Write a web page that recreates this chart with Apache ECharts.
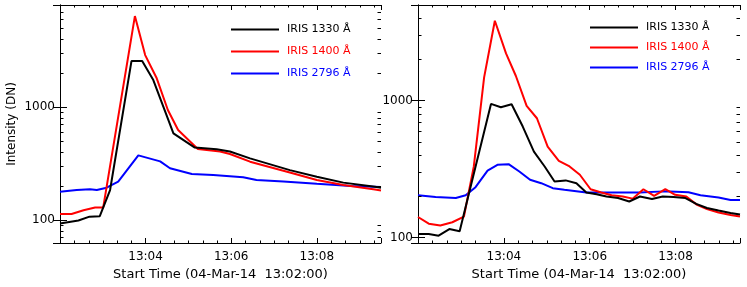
<!DOCTYPE html>
<html>
<head>
<meta charset="utf-8">
<script src="https://cdn.jsdelivr.net/npm/echarts@6.0.0/dist/echarts.min.js"></script>
<style>
html,body{margin:0;padding:0;background:#fff;}
#chart{width:747px;height:287px;}
</style>
</head>
<body>
<div id="chart"></div>
<script>
// ---- Data (time in minutes after 13:00, intensity in DN) ----
const seriesNames = ['IRIS 1330 Å', 'IRIS 1400 Å', 'IRIS 2796 Å'];
const seriesColors = ['#000000', '#ff0000', '#0000ff'];

// Left panel
const tL1330 = [2.0, 2.43, 2.69, 2.93, 3.17, 3.67, 3.92, 4.18, 4.65, 5.15, 5.66, 5.97, 6.44, 7.37, 8.0, 8.62, 9.36, 9.5];
const vL1330 = [93, 99, 107, 108, 184, 2550, 2550, 1730, 585, 437, 422, 404, 351, 276, 241, 214, 197, 193];
const tL1400 = [2.0, 2.27, 2.55, 2.82, 3.01, 3.75, 3.99, 4.26, 4.52, 4.76, 5.22, 5.74, 5.97, 6.44, 7.37, 8.0, 8.62, 9.36, 9.5];
const vL1400 = [113, 113, 122, 129, 129, 6380, 2880, 1795, 940, 626, 425, 403, 384, 328, 263, 226, 204, 186, 182];
const tL2796 = [2.0, 2.39, 2.7, 2.86, 3.09, 3.36, 3.83, 4.34, 4.57, 5.08, 5.58, 6.28, 6.59, 7.22, 8.0, 8.8, 9.5];
const vL2796 = [178, 184, 187, 184, 193, 218, 373, 330, 287, 255, 250, 239, 226, 219, 209, 200, 196];

// Right panel
const tR1330 = [2.0, 2.25, 2.48, 2.73, 2.97, 3.70, 3.93, 4.18, 4.44, 4.70, 4.95, 5.18, 5.44, 5.69, 5.92, 6.16, 6.39, 6.66, 6.92, 7.17, 7.45, 7.70, 7.95, 8.23, 8.48, 8.73, 9.0, 9.28, 9.5];
const vR1330 = [106, 106, 103, 115, 111, 946, 894, 940, 646, 424, 330, 256, 261, 249, 213, 207, 199, 194, 183, 199, 191, 199, 197, 194, 176, 164, 157, 151, 147];
const tR1400 = [2.0, 2.25, 2.52, 2.8, 3.07, 3.30, 3.54, 3.79, 4.05, 4.28, 4.53, 4.77, 5.02, 5.28, 5.53, 5.77, 6.02, 6.27, 6.51, 6.77, 7.0, 7.25, 7.5, 7.76, 7.99, 8.25, 8.5, 8.73, 9.0, 9.28, 9.5];
const vR1400 = [141, 126, 122, 129, 142, 330, 1480, 3837, 2213, 1513, 914, 743, 461, 363, 330, 287, 225, 213, 203, 199, 192, 225, 201, 225, 205, 199, 173, 161, 152, 146, 142];
const tR2796 = [2.0, 2.41, 2.88, 3.11, 3.34, 3.62, 3.85, 4.11, 4.36, 4.61, 4.87, 5.14, 5.41, 5.92, 6.39, 7.17, 7.72, 8.30, 8.58, 9.0, 9.28, 9.5];
const vR2796 = [203, 197, 194, 203, 233, 308, 339, 343, 303, 264, 249, 229, 223, 213, 213, 213, 217, 214, 203, 196, 188, 188];

// Tick labels
const xTickMinutes = [4, 6, 8];
const xTickLabels = ['13:04', '13:06', '13:08'];
const yTickValues = [100, 1000];
const yTickLabels = ['100', '1000'];
const xTitle = 'Start Time (04-Mar-14  13:02:00)';
const yTitle = 'Intensity (DN)';

// ---- Layout ----
const FONT = 'DejaVu Sans';
const START_MIN = 2;           // axis starts at 13:02:00
const X_MIN = 0, X_MAX = 450;  // seconds since start time
const toSec = t => Math.round((t - START_MIN) * 60 * 1000) / 1000;
const panels = [
  { left: 60, width: 321, yMin: 62.5, yMax: 8000, showYName: true,
    legendLeft: 231, legendTop: 24, legendGap: 11,
    data: [[tL1330, vL1330], [tL1400, vL1400], [tL2796, vL2796]] },
  { left: 418, width: 322, yMin: 91, yMax: 5000, showYName: false,
    legendLeft: 590, legendTop: 22, legendGap: 9,
    data: [[tR1330, vR1330], [tR1400, vR1400], [tR2796, vR2796]] }
];
const TOP = 5, HEIGHT = 238;

const xMinorSec = [];
for (let s = 20; s < X_MAX; s += 20) { if (s % 120 !== 0) xMinorSec.push(s); }
function yMinorFor(lo, hi) {
  const out = [];
  [10, 100, 1000].forEach(d => { for (let m = 2; m <= 9; m++) { const v = m * d; if (v > lo && v < hi) out.push(v); } });
  return out;
}

const grids = [], xAxes = [], yAxes = [], series = [], legends = [];
const txt = { color: '#000', fontFamily: FONT, fontSize: 12 };
const tickStyle = { color: '#000', width: 1 };
const line = { show: true, lineStyle: { color: '#000', width: 1 } };

panels.forEach((p, pi) => {
  const g = grids.length;
  grids.push({ left: p.left, top: TOP, width: p.width, height: HEIGHT, containLabel: false });

  const xIdx = xAxes.length;
  xAxes.push({
    type: 'value', gridIndex: g, position: 'bottom', min: X_MIN, max: X_MAX, interval: 120,
    axisLine: line, splitLine: { show: false },
    axisTick: { show: true, inside: true, length: 5, lineStyle: tickStyle },
    axisLabel: { show: true, margin: 8, ...txt, showMinLabel: true, showMaxLabel: true,
      formatter: v => { const i = xTickMinutes.findIndex(m => Math.abs(toSec(m) - v) < 1e-6); return i >= 0 ? xTickLabels[i] : ''; } },
    name: xTitle, nameLocation: 'middle', nameGap: 24, nameTextStyle: { ...txt, fontSize: 13 }
  });
  xAxes.push({
    type: 'value', gridIndex: g, position: 'top', min: X_MIN, max: X_MAX, interval: 120,
    axisLine: line, splitLine: { show: false },
    axisTick: { show: true, inside: true, length: 5, lineStyle: tickStyle },
    axisLabel: { show: false }
  });

  const yIdx = yAxes.length;
  yAxes.push({
    type: 'log', logBase: 10, gridIndex: g, position: 'left', min: p.yMin, max: p.yMax,
    axisLine: line, splitLine: { show: false },
    axisTick: { show: true, inside: true, length: 7, lineStyle: tickStyle },
    axisLabel: { show: true, margin: 5, ...txt,
      formatter: v => { const i = yTickValues.findIndex(t => Math.abs(t - v) / t < 1e-3); return i >= 0 ? yTickLabels[i] : ''; } },
    name: p.showYName ? yTitle : '', nameLocation: 'middle', nameGap: 42, nameRotate: 90, nameTextStyle: { ...txt }
  });
  yAxes.push({
    type: 'log', logBase: 10, gridIndex: g, position: 'right', min: p.yMin, max: p.yMax,
    axisLine: line, splitLine: { show: false },
    axisTick: { show: true, inside: true, length: 7, lineStyle: tickStyle },
    axisLabel: { show: false }
  });

  p.data.forEach((d, si) => {
    const [ts, vs] = d;
    series.push({
      type: 'line', name: seriesNames[si], xAxisIndex: xIdx, yAxisIndex: yIdx,
      data: ts.map((t, i) => [toSec(t), vs[i]]),
      showSymbol: false, symbol: 'none', smooth: false, animation: false,
      lineStyle: { color: seriesColors[si], width: 2 }, itemStyle: { color: seriesColors[si] },
      z: 3 - si
    });
  });

  // minor ticks on the log y axis (left and right borders), placed via the axis scale
  series.push({
    type: 'custom', xAxisIndex: xIdx, yAxisIndex: yIdx, silent: true, animation: false, z: 5,
    data: yMinorFor(p.yMin, p.yMax).map(v => [X_MIN, v]),
    encode: { x: 0, y: 1 }, clip: false,
    renderItem: (params, api) => {
      const cs = params.coordSys;
      const y = Math.round(api.coord([X_MIN, api.value(1)])[1]) + 0.5;
      const L = 3.5;
      return { type: 'group', children: [
        { type: 'line', shape: { x1: cs.x, y1: y, x2: cs.x + L, y2: y }, style: { stroke: '#000', lineWidth: 1 } },
        { type: 'line', shape: { x1: cs.x + cs.width - L, y1: y, x2: cs.x + cs.width, y2: y }, style: { stroke: '#000', lineWidth: 1 } }
      ] };
    }
  });
  // minor ticks on the time axis (bottom and top borders)
  series.push({
    type: 'custom', xAxisIndex: xIdx, yAxisIndex: yIdx, silent: true, animation: false, z: 5,
    data: xMinorSec.map(s => [s, p.yMin]),
    encode: { x: 0, y: 1 }, clip: false,
    renderItem: (params, api) => {
      const cs = params.coordSys;
      const x = Math.round(api.coord([api.value(0), p.yMin])[0]) + 0.5;
      const L = 2.5;
      return { type: 'group', children: [
        { type: 'line', shape: { x1: x, y1: cs.y + cs.height, x2: x, y2: cs.y + cs.height - L }, style: { stroke: '#000', lineWidth: 1 } },
        { type: 'line', shape: { x1: x, y1: cs.y, x2: x, y2: cs.y + L }, style: { stroke: '#000', lineWidth: 1 } }
      ] };
    }
  });

  legends.push({
    orient: 'vertical', left: p.legendLeft, top: p.legendTop, itemGap: p.legendGap, padding: 0,
    itemWidth: 48, itemHeight: 2, icon: 'rect', selectedMode: false,
    textStyle: { fontFamily: FONT, fontSize: 11, padding: [0, 0, 0, 3] },
    data: seriesNames.map((n, i) => ({ name: n, textStyle: { color: seriesColors[i] } }))
  });
});

const chart = echarts.init(document.getElementById('chart'), null, { renderer: 'canvas' });
chart.setOption({
  animation: false,
  backgroundColor: '#ffffff',
  grid: grids, xAxis: xAxes, yAxis: yAxes, series: series, legend: legends
});
</script>
</body>
</html>
